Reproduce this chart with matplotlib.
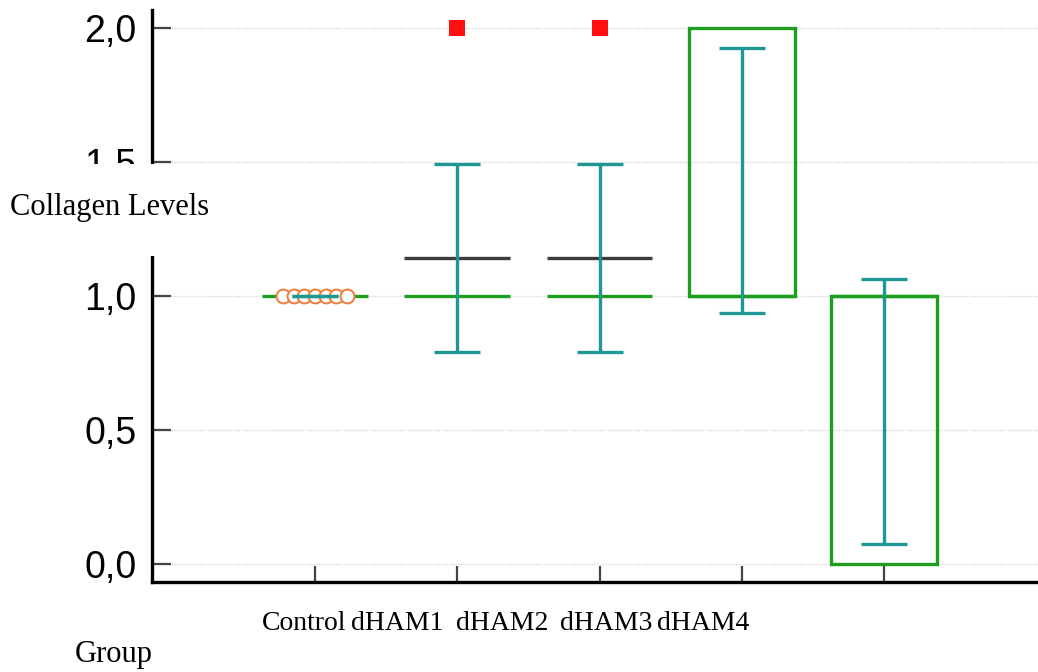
import numpy as np
import matplotlib
matplotlib.use("Agg")
import matplotlib.pyplot as plt
from matplotlib.patches import Rectangle
from matplotlib.ticker import FixedLocator, FuncFormatter

# ---- data ----
categories = ["Control", "dHAM1", "dHAM2", "dHAM3", "dHAM4"]
medians = [1.0, 1.0, 1.0, 1.0, 1.0]
q1 = [1.0, 1.0, 1.0, 1.0, 0.0]
q3 = [1.0, 1.0, 1.0, 2.0, 1.0]
means = [1.0, 1.143, 1.143, 1.43, 0.57]
sds = [0.0, 0.35, 0.35, 0.495, 0.495]
mean_lines = [None, 1.143, 1.143, None, None]
outliers = {"dHAM1": [2.0], "dHAM2": [2.0]}
control_points = [1.0, 1.0, 1.0, 1.0, 1.0, 1.0, 1.0]
y_ticks = [0.0, 0.5, 1.0, 1.5, 2.0]

# ---- style ----
GREEN = "#1e9e1e"
TEAL = "#1f9797"
ORANGE = "#f07a3a"
RED = "#ff1010"
MEANC = "#3c3c3c"
W, H, DPI = 1038, 672, 100

fig = plt.figure(figsize=(W / DPI, H / DPI), dpi=DPI)
ax = fig.add_axes([152 / W, 1 - 582 / H, 1 - 152 / W, (582 - 10) / H])

x = np.arange(len(categories))
box_w = 0.745

# boxes (only where box has height)
for xi, lo, hi in zip(x, q1, q3):
    if hi > lo:
        ax.bar(xi, hi - lo, bottom=lo, width=box_w, fill=False,
               edgecolor=GREEN, linewidth=2.4, zorder=3)

# medians
ax.hlines(medians, x - box_w / 2, x + box_w / 2, colors=GREEN,
          linewidth=2.4, zorder=3)

# means
for xi, m in zip(x, mean_lines):
    if m is not None:
        ax.hlines(m, xi - box_w / 2, xi + box_w / 2, colors=MEANC,
                  linewidth=2.4, zorder=3)

# control points (jittered horizontally)
offs = np.linspace(-0.222, 0.222, len(control_points))
ax.plot(x[0] + offs, control_points, linestyle="none", marker="o",
        markersize=10, markerfacecolor="white", markeredgecolor=ORANGE,
        markeredgewidth=1.4, zorder=4)

# error bars (mean +/- sd)
ax.errorbar(x, means, yerr=sds, fmt="none", ecolor=TEAL, elinewidth=2.4,
            capsize=16.5, capthick=2.4, zorder=5)

# outliers
for cat, vals in outliers.items():
    xi = categories.index(cat)
    ax.plot([xi] * len(vals), vals, linestyle="none", marker="s",
            markersize=11, color=RED, markeredgewidth=0, zorder=5)

# axes
ax.set_xlim(-163 / 142.25, 4 + (1038 - 884) / 142.25)
ax.set_ylim(-17.7 / 268.3, 2 + 17.7 / 268.3)
ax.set_xticks(x)
ax.set_xticklabels([])
ax.yaxis.set_major_locator(FixedLocator(y_ticks))
ax.yaxis.set_major_formatter(FuncFormatter(lambda v, p: f"{v:.1f}".replace(".", ",")))
for s in ["top", "right"]:
    ax.spines[s].set_visible(False)
for s in ["left", "bottom"]:
    ax.spines[s].set_linewidth(2.4)
    ax.spines[s].set_color("black")
ax.tick_params(axis="y", direction="in", length=14, width=1.6, color="#444444",
               pad=11, labelsize=27)
ax.tick_params(axis="x", direction="in", length=11.5, width=1.6, color="#444444")
for lab in ax.get_yticklabels():
    lab.set_fontfamily("Liberation Sans")
ax.grid(axis="y", color="#d6d6d6", linewidth=1.0, linestyle=(0, (1, 1)))
ax.set_axisbelow(True)

# white patch breaking the y axis (pasted label region)
fig.add_artist(Rectangle((0, 1 - 256 / H), 160 / W, (256 - 164) / H,
                         transform=fig.transFigure, facecolor="white",
                         edgecolor="none", zorder=5))

serif = "Liberation Serif"
fig.text(10 / W, 1 - 215 / H, "Collagen Levels", family=serif, fontsize=22,
         ha="left", va="baseline", zorder=6)
fig.text(75 / W, 1 - 662 / H, "Group", family=serif, fontsize=22,
         ha="left", va="baseline", zorder=6)

label_px = [304, 397, 502, 606, 703]
for cat, px in zip(categories, label_px):
    fig.text(px / W, 1 - 630 / H, cat, family=serif, fontsize=20,
             ha="center", va="baseline", zorder=6)

fig.savefig("out.png", dpi=DPI)
